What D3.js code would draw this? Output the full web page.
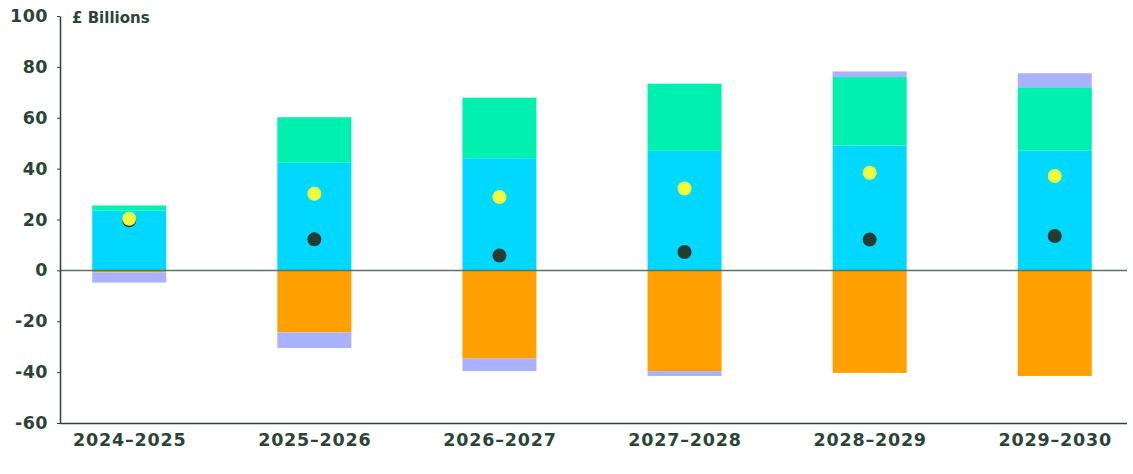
<!DOCTYPE html>
<meta charset="utf-8">
<style>
    body { margin: 0; background: #fff; }
    svg text {
        font-family: "DejaVu Sans", sans-serif;
        font-weight: bold;
        fill: #2a4537;
    }
    .axis path, .axis line { stroke: #2a4537; }
</style>
<svg width="1133" height="474"></svg>
<script src="https://d3js.org/d3.v7.min.js"></script>
<script>

    var years = ["2024\u20132025", "2025\u20132026", "2026\u20132027", "2027\u20132028", "2028\u20132029", "2029\u20132030"];

    // stacked components (£ billions)
    var cyanVals   = [23.5, 42.3, 44.1, 47.0, 49.1, 47.1];
    var greenVals  = [2.0, 17.9, 23.8, 26.4, 26.9, 24.9];
    var orangeVals = [-0.8, -24.4, -34.7, -39.6, -40.3, -41.5];
    var purpleVals = [-4.0, -6.1, -4.9, -1.9, 2.2, 5.5];

    // dot series
    var yellowDots = [20.3, 30.1, 28.8, 32.2, 38.4, 37.1];
    var darkDots   = [19.7, 12.2, 5.8, 7.2, 12.1, 13.5];

    var yTicks = [100, 80, 60, 40, 20, 0, -20, -40, -60];

    var keys = ["cyan", "green", "orange", "purple"];
    var colors = {cyan: "#00d8ff", green: "#00f0b0", orange: "#ff9f00", purple: "#aab1ff"};

    var rows = years.map(function(y, i) {
        return {year: y, cyan: cyanVals[i], green: greenVals[i], orange: orangeVals[i], purple: purpleVals[i]};
    });

    var svg = d3.select("svg");
    var plotLeft = 60, plotRight = 1127, plotTop = 16, plotBottom = 423;

    var x = d3.scalePoint().domain(years).range([plotLeft, 1124]).padding(0.374);
    var y = d3.scaleLinear().domain([-60, 100]).range([plotBottom, plotTop]);
    var barW = 74;

    var series = d3.stack().keys(keys).offset(d3.stackOffsetDiverging)(rows);

    svg.append("g").selectAll("g")
        .data(series)
        .enter().append("g")
        .attr("fill", function(d) { return colors[d.key]; })
        .selectAll("rect")
        .data(function(d) { return d; })
        .enter().append("rect")
        .attr("x", function(d) { return x(d.data.year) - barW / 2; })
        .attr("width", barW)
        .attr("y", function(d) { return y(Math.max(d[0], d[1])); })
        .attr("height", function(d) { return Math.abs(y(d[0]) - y(d[1])); });

    // zero line
    svg.append("line")
        .attr("x1", plotLeft).attr("x2", plotRight)
        .attr("y1", y(0)).attr("y2", y(0))
        .attr("stroke", "#5d716a").attr("stroke-width", 1.5);

    // dots
    svg.append("g").selectAll("circle")
        .data(darkDots)
        .enter().append("circle")
        .attr("cx", function(d, i) { return x(years[i]); })
        .attr("cy", function(d) { return y(d); })
        .attr("r", 7)
        .attr("fill", "#263b31");

    svg.append("g").selectAll("circle")
        .data(yellowDots)
        .enter().append("circle")
        .attr("cx", function(d, i) { return x(years[i]); })
        .attr("cy", function(d) { return y(d); })
        .attr("r", 7)
        .attr("fill", "#eefc3c");

    // y axis
    var yAxis = svg.append("g")
        .attr("class", "axis")
        .attr("transform", "translate(" + plotLeft + ",0)")
        .call(d3.axisLeft(y).tickValues(yTicks).tickSize(3).tickSizeOuter(0)
            .tickFormat(function(d) { return d < 0 ? "-" + Math.abs(d) : d; }));
    yAxis.selectAll("text")
        .attr("x", -12)
        .style("font-size", "17.5px")
        .style("letter-spacing", "0.5px");
    yAxis.select(".domain").attr("stroke-width", 1.5);

    // x axis
    var xAxis = svg.append("g")
        .attr("class", "axis")
        .attr("transform", "translate(0," + plotBottom + ")")
        .call(d3.axisBottom(x).tickSize(0).tickSizeOuter(0));
    xAxis.select(".domain").attr("d", "M" + plotLeft + ",0.5H" + plotRight).attr("stroke-width", 1.5);
    xAxis.selectAll("text")
        .attr("y", 11)
        .style("font-size", "17.5px")
        .style("letter-spacing", "0.8px");

    svg.append("text")
        .attr("x", 72)
        .attr("y", 23)
        .style("font-size", "15px")
        .text("\u00a3 Billions");

</script>
